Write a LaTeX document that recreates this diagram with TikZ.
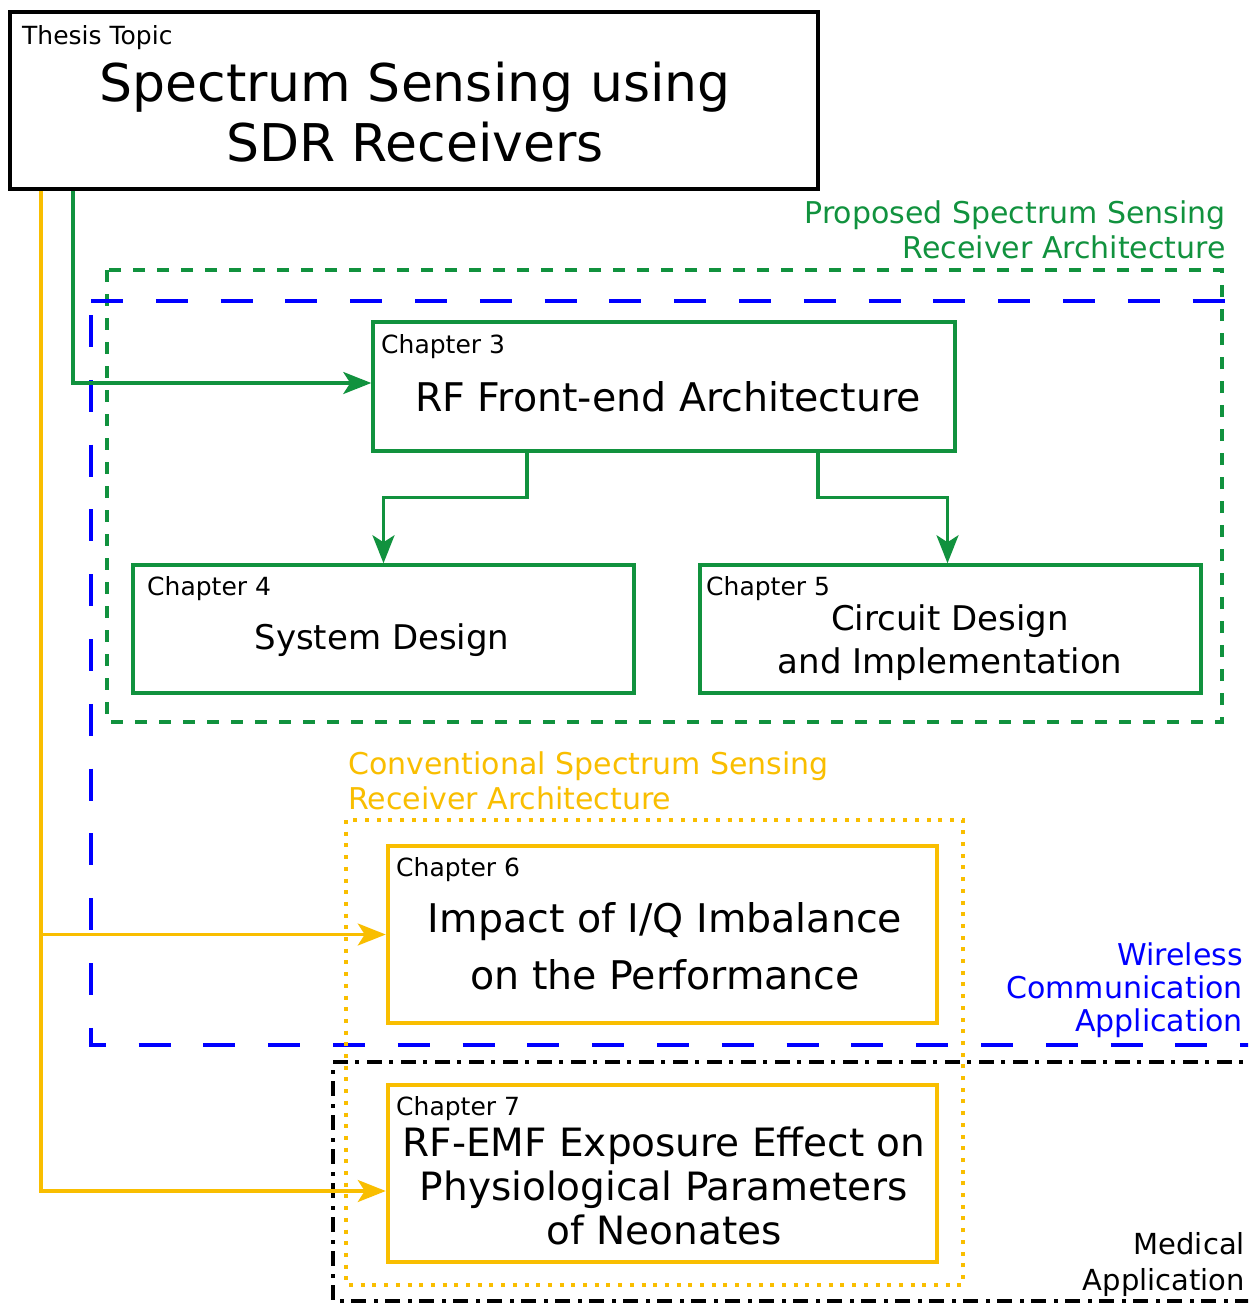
\documentclass[tikz,border=0pt]{standalone}
\usepackage{fontspec}
\setmainfont{DejaVu Sans}
\usepackage{tikz}
\usetikzlibrary{calc,arrows.meta}
\definecolor{thgreen}{RGB}{17,146,62}
\definecolor{thyellow}{RGB}{249,190,0}
\definecolor{thblue}{RGB}{0,0,255}
\newcommand{\fs}[2]{\fontsize{#1}{#2}\selectfont}
\tikzset{
  chbox/.style={draw, line width=3.5pt, minimum width=#1, inner sep=0pt},
  chlabel/.style={anchor=west, inner sep=0pt, font=\fs{25}{30}},
  tip/.style={-{Stealth[length=28pt,width=22pt,inset=7pt]}}
}

\begin{document}
\begin{tikzpicture}[x=1pt,y=-1pt]
      \clip (0,0) rectangle (1248,1304);
      \fill[white] (0,0) rectangle (1248,1304);
      \draw[thgreen, line width=3.5pt, dash pattern=on 12pt off 12pt] (107,270) rectangle (1222,722);
      \draw[thblue, line width=4pt, dash pattern=on 32pt off 32.8pt] (91,301) -- (1300,301) (91,315) -- (91,1045) -- (1300,1045);
      \draw[thyellow, line width=3.5pt, dash pattern=on 4pt off 7.7pt] (346,820) rectangle (963,1285);
      \draw[black, line width=3.5pt, dash pattern=on 15pt off 8pt on 4pt off 7pt] (1300,1062) -- (333,1062) -- (333,1301) -- (1300,1301);
      \node (top) at (414,100.5) [draw, line width=4pt, minimum width=808, minimum height=177] {};
      \node (ch3) at (664,386.5) [chbox=582, thgreen, minimum height=129] {};
      \node (ch4) at (383.5,629) [chbox=501, thgreen, minimum height=128] {};
      \node (ch5) at (950.5,629) [chbox=501, thgreen, minimum height=128] {};
      \node (ch6) at (662.5,934.5) [chbox=549, thyellow, line width=4.5pt, minimum height=177] {};
      \node (ch7) at (662.5,1173.5) [chbox=549, thyellow, line width=4.5pt, minimum height=177] {};
      \node (toplbl) at (22,38) [chlabel] {Thesis Topic};
      \node (title) at (415,112) [align=center, font=\fs{52}{60}] {Spectrum Sensing using\\SDR Receivers};
      \node (lbl3) at (381,347) [chlabel] {Chapter 3};
      \node (lbl4) at (147,589) [chlabel] {Chapter 4};
      \node (lbl5) at (706,589) [chlabel] {Chapter 5};
      \node (lbl6) at (396,870) [chlabel] {Chapter 6};
      \node (lbl7) at (396,1109) [chlabel] {Chapter 7};
      \node (t3) at (668,397) [font=\fs{39.5}{44}] {RF Front-end Architecture};
      \node (t4) at (382,640) [font=\fs{34}{42}] {System Design};
      \node (t5) at (950,643) [align=center, font=\fs{34}{43}] {Circuit Design\\and Implementation};
      \node (t6) at (665,946) [align=center, font=\fs{39.5}{57}] {Impact of I/Q Imbalance\\on the Performance};
      \node (t7) at (664,1186) [align=center, font=\fs{39}{44}] {RF-EMF Exposure Effect on\\Physiological Parameters\\of Neonates};
      \node (prop) at (1226,230) [anchor=east, align=right, inner sep=0pt, text=thgreen, font=\fs{30}{35}] {Proposed Spectrum Sensing\\Receiver Architecture};
      \node (conv) at (348,781) [anchor=west, align=left, inner sep=0pt, text=thyellow, font=\fs{30}{35}] {Conventional Spectrum Sensing\\Receiver Architecture};
      \node (wire) at (1243,990.5) [anchor=east, align=right, inner sep=0pt, text=thblue, font=\fs{30}{33}] {Wireless\\Communication\\Application};
      \node (med) at (1245,1264) [anchor=east, align=right, inner sep=0pt, font=\fs{29}{36}] {Medical\\Application};
      \draw[thgreen, line width=3.2pt, tip] ($(top.south west)+(65,0)$) |- ($(ch3.west)+(0,-3.5)$);
      \draw[thgreen, line width=3.2pt, tip] ($(ch3.south)+(-137,0)$) -- ++(0,45) -| (ch4.north);
      \draw[thgreen, line width=3.2pt, tip] ($(ch3.south)+(154,0)$) -- ++(0,45) -| ($(ch5.north)+(-3,0)$);
      \draw[thyellow, line width=3.2pt, tip] ($(top.south west)+(33,0)$) |- (ch6.west);
      \draw[thyellow, line width=3.2pt, tip] ($(top.south west)+(33,0)$) |- ($(ch7.west)+(0,17.5)$);
\end{tikzpicture}
\end{document}
